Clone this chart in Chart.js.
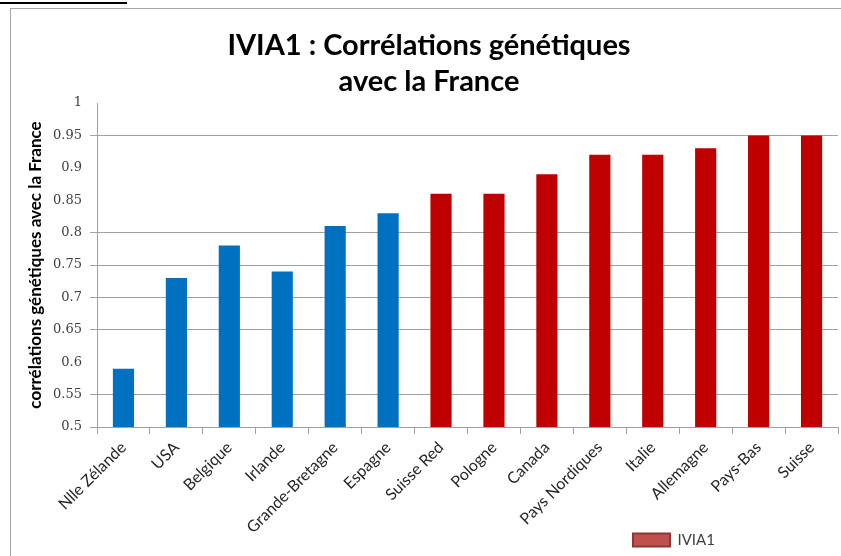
<!DOCTYPE html>
<html lang="fr">
<head>
<meta charset="utf-8">
<title>IVIA1 : Corrélations génétiques avec la France</title>
<script src="https://cdn.jsdelivr.net/npm/chart.js@4"></script>
<style>
    body { margin: 0; background: #fff; }
    #wrap { position: relative; width: 841px; height: 556px; overflow: hidden; }
    #frame { position: absolute; left: 10px; top: 8px; width: 900px; height: 600px; border: 1px solid #a6a6a6; }
    #rule { position: absolute; left: 0; top: 2px; width: 127px; height: 2px; background: #000; }
    #box { position: absolute; left: 0; top: 0; width: 841px; height: 556px; }
</style>
</head>
<body>
<div id="wrap">
    <div id="rule"></div>
    <div id="frame"></div>
    <div id="box"><canvas id="ivia1Chart"></canvas></div>
</div>
<script>
var countries = ['Nlle Zélande', 'USA', 'Belgique', 'Irlande', 'Grande-Bretagne', 'Espagne', 'Suisse Red',
    'Pologne', 'Canada', 'Pays Nordiques', 'Italie', 'Allemagne', 'Pays-Bas', 'Suisse'];
var correlations = [0.59, 0.73, 0.78, 0.74, 0.81, 0.83, 0.86, 0.86, 0.89, 0.92, 0.92, 0.93, 0.95, 0.95];
var seriesName = 'IVIA1';
var titleLines = ['IVIA1 : Corrélations génétiques', 'avec la France'];
var yAxisTitle = 'corrélations génétiques avec la France';
var yMin = 0.5, yMax = 1, yStep = 0.05;
// the reference picture shows no grid line at these values
var yNoGrid = [1, 0.9, 0.85, 0.6];

var blue = '#0070C0';
var red = '#C00000';
var barColors = countries.map((c, i) => i < 6 ? blue : red);

// move the legend to where Excel put it (bottom, right of centre)
var legendPlace = {
    id: 'legendPlace',
    afterLayout(chart) {
        var pad = chart.options.plugins.legend.labels.padding;
        var lg = chart.legend;
        lg.left = 633 - pad;
        lg.top = 540 - pad - 7.5;
        lg.bottom = lg.top + 40;
        lg.height = 40;
    }
};

var ctx = document.getElementById('ivia1Chart').getContext('2d');
var ivia1Chart = new Chart(ctx, {
    type: 'bar',
    data: {
        labels: countries,
        datasets: [{
            label: seriesName,
            data: correlations,
            backgroundColor: barColors,
            borderWidth: 0,
            categoryPercentage: 1,
            barPercentage: 0.4
        }]
    },
    options: {
        responsive: true,
        maintainAspectRatio: false,
        animation: false,
        layout: {
            padding: { left: 20, right: 3, top: 0, bottom: 0 }
        },
        scales: {
            x: {
                grid: {
                    drawOnChartArea: false,
                    drawTicks: true,
                    tickLength: 7,
                    color: '#a0a0a0'
                },
                border: { color: '#a0a0a0' },
                ticks: {
                    minRotation: 45,
                    maxRotation: 45,
                    padding: 4,
                    color: '#262626',
                    font: { family: 'Lato', size: 16 }
                },
                afterFit(scale) {
                    scale.height = 128;
                }
            },
            y: {
                min: yMin,
                max: yMax,
                ticks: {
                    stepSize: yStep,
                    padding: 8,
                    color: '#404040',
                    font: { family: 'DejaVu Serif', size: 13 },
                    callback: v => String(+v.toFixed(2))
                },
                grid: {
                    tickLength: 7,
                    color: c => yNoGrid.includes(+c.tick.value.toFixed(2)) ? '#ffffff' : '#a0a0a0'
                },
                border: { color: '#a0a0a0' },
                title: {
                    display: true,
                    text: yAxisTitle,
                    color: '#000',
                    font: { family: 'Lato', size: 17, weight: 'bold' },
                    padding: { top: 5, bottom: 0 }
                },
                afterFit(scale) {
                    scale.width = 77;
                }
            }
        },
        plugins: {
            title: {
                display: true,
                text: titleLines,
                color: '#000',
                font: { family: 'Lato', size: 29, weight: 'bold', lineHeight: '36px' },
                padding: { top: 28, bottom: 3 }
            },
            legend: {
                position: 'bottom',
                align: 'start',
                maxHeight: 1,
                labels: {
                    padding: 10,
                    boxWidth: 37,
                    boxHeight: 13,
                    color: '#404040',
                    font: { family: 'Lato', size: 15 },
                    generateLabels: () => [{
                        text: seriesName,
                        fillStyle: '#C0504D',
                        strokeStyle: '#8C3836',
                        lineWidth: 2,
                        fontColor: '#404040',
                        datasetIndex: 0
                    }]
                }
            },
            tooltip: { enabled: false }
        }
    },
    plugins: [legendPlace]
});
</script>
</body>
</html>
